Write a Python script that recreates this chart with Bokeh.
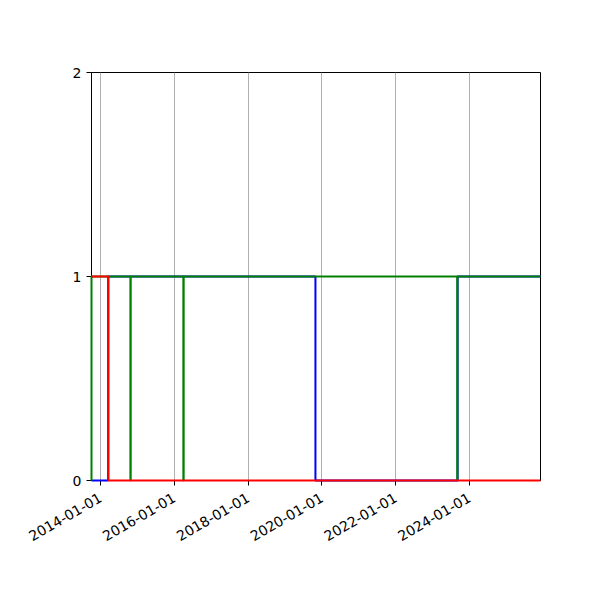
import math
import pandas as pd
from bokeh.plotting import figure
from bokeh.models import Range1d, FixedTicker, DatetimeTickFormatter
from bokeh.embed import file_html
from bokeh.resources import INLINE

# ---- data ----
red_dates = ["2013-10-04", "2014-03-20", "2025-12-03"]
red_vals = [1, 0, 0]

blue_dates = ["2013-10-04", "2014-03-18", "2019-10-29", "2023-09-05", "2025-12-03"]
blue_vals = [0, 1, 0, 1, 1]

green_dates = ["2013-10-04", "2013-10-04", "2014-10-24", "2014-10-27",
               "2016-03-31", "2016-04-03", "2023-09-01", "2023-09-03", "2025-12-03"]
green_vals = [0, 1, 0, 1, 0, 1, 0, 1, 1]

x_tick_labels = ["2014-01-01", "2016-01-01", "2018-01-01",
                 "2020-01-01", "2022-01-01", "2024-01-01"]
y_ticks = [0, 1, 2]

rd = pd.to_datetime(red_dates)
bd = pd.to_datetime(blue_dates)
gd = pd.to_datetime(green_dates)
all_d = rd.append(bd).append(gd)

p = figure(width=584, height=584, x_axis_type="datetime",
           output_backend="svg", toolbar_location=None,
           x_range=Range1d(all_d.min(), all_d.max()),
           y_range=Range1d(min(y_ticks), max(y_ticks)),
           min_border_left=91, min_border_right=44,
           min_border_top=72, min_border_bottom=104)

r1 = p.step(bd, blue_vals, mode="after", line_color="blue", line_width=2)
r2 = p.step(gd, green_vals, mode="after", line_color="green", line_width=2)
r3 = p.step(rd, red_vals, mode="after", line_color="red", line_width=2)
for r in (r1, r2, r3):
    r.level = "overlay"

tick_ms = [pd.Timestamp(t).value / 1e6 for t in x_tick_labels]
p.xaxis.ticker = FixedTicker(ticks=tick_ms)
fmt = "%Y-%m-%d"
p.xaxis.formatter = DatetimeTickFormatter(years=fmt, months=fmt, days=fmt,
                                          hours=fmt, minutes=fmt, seconds=fmt,
                                          milliseconds=fmt, microseconds=fmt)
p.xaxis.major_label_orientation = math.pi / 6
p.xaxis.major_label_standoff = 11
p.yaxis.ticker = FixedTicker(ticks=y_ticks)

for ax in (p.xaxis, p.yaxis):
    ax.major_label_text_font = "DejaVu Sans"
    ax.major_label_text_font_size = "14px"
    ax.major_label_text_color = "black"
    ax.axis_line_color = "black"
    ax.major_tick_line_color = "black"
    ax.major_tick_out = 5
    ax.major_tick_in = 0
    ax.minor_tick_line_color = None

p.xgrid.grid_line_color = "#b0b0b0"
p.xgrid.grid_line_width = 1
p.ygrid.grid_line_color = None
p.outline_line_color = "black"
p.outline_line_width = 1
p.outline_line_alpha = 1
p.background_fill_color = "white"
p.border_fill_color = "white"

open("out.html", "w").write(file_html(p, INLINE))
